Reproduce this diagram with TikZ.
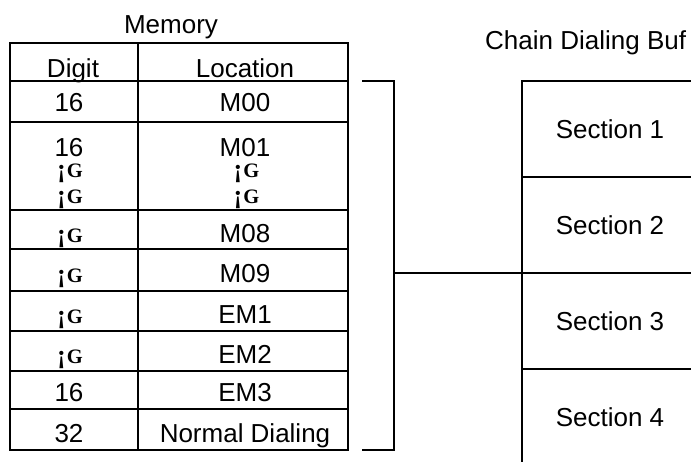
\documentclass[tikz,border=0pt]{standalone}
\usepackage{fontspec}
\setmainfont{Liberation Sans}
\newfontfamily\glfont{Liberation Serif}
\newcommand{\glmark}{\smash{\fontsize{26}{26}\selectfont ¡}\kern1pt{\fontsize{20.5}{20.5}\selectfont G}}
\begin{document}
\begin{tikzpicture}[x=1pt,y=-1pt,
  txt/.style={anchor=base,inner sep=0pt,font=\fontsize{26}{28}\selectfont},
  glyph/.style={anchor=base,inner sep=0pt,font=\glfont\bfseries},
  rule/.style={line width=2pt},
  sec/.style={draw,line width=2pt,minimum width=176pt,minimum height=96pt,inner sep=0pt,outer sep=0pt,anchor=north west,font=\fontsize{26}{28}\selectfont}]
\useasboundingbox (0,0) rectangle (691,461);
\clip (0,0) rectangle (691,461);
% Memory table
\node[txt] (mem) at (171,33) {Memory};
\draw[rule] (10,43) rectangle (347.5,450);
\draw[rule] (137.5,43) -- (137.5,450);
\foreach \yy in {81,122,210,249,291,331,371,409}
  \draw[rule] (10,\yy) -- (347.5,\yy);
\node[txt] (hd) at (73,77) {Digit};
\node[txt] (hl) at (245,77) {Location};
\node[txt] (d0) at (69,111) {16};
\node[txt] (l0) at (245,111) {M00};
\node[txt] (d1) at (69,156) {16};
\node[txt] (l1) at (245,156) {M01};
\node[glyph] (d1a) at (70,177) {\glmark};
\node[glyph] (d1b) at (70,203) {\glmark};
\node[glyph] (l1a) at (246.5,177) {\glmark};
\node[glyph] (l1b) at (246.5,203) {\glmark};
\node[glyph] (d8) at (70,242) {\glmark};
\node[txt] (l8) at (245,242) {M08};
\node[glyph] (d9) at (70,282) {\glmark};
\node[txt] (l9) at (245,282) {M09};
\node[glyph] (de1) at (70,323) {\glmark};
\node[txt] (le1) at (245,323) {EM1};
\node[glyph] (de2) at (70,363) {\glmark};
\node[txt] (le2) at (245,363) {EM2};
\node[txt] (de3) at (69,401) {16};
\node[txt] (le3) at (245,401) {EM3};
\node[txt] (dn) at (69,442) {32};
\node[txt] (ln) at (245,442) {Normal Dialing};
% Chain dialing buffer
\node[txt,anchor=base west] (cdb) at (485,49) {Chain Dialing Buf};
\node[sec] (sec1) at (522,81) {Section 1};
\node[sec] (sec2) at (sec1.south west) {Section 2};
\node[sec] (sec3) at (sec2.south west) {Section 3};
\node[sec] (sec4) at (sec3.south west) {Section 4};
% bracket
\coordinate (btop) at (362,81);
\coordinate (bbot) at (362,449.5);
\coordinate (bmid) at (394,273);
\draw[rule] (btop) -| (bmid) |- (bbot);
\draw[rule] (bmid) -- (sec3.north west);
\end{tikzpicture}
\end{document}
